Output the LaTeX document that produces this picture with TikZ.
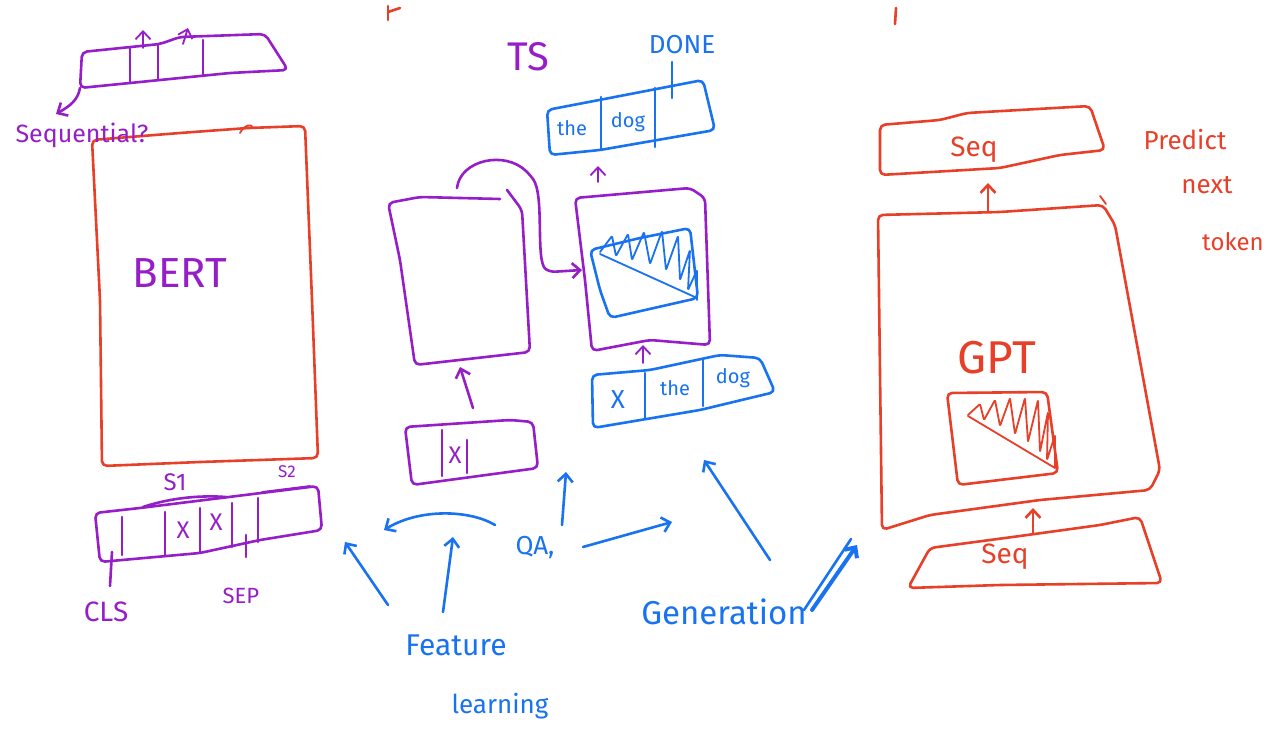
\documentclass[tikz,border=0pt]{standalone}
\usepackage{fontspec}
\setmainfont{Fira Sans}
\usetikzlibrary{arrows.meta, positioning}
\definecolor{penpurple}{RGB}{150,30,200}
\definecolor{penred}{RGB}{232,64,40}
\definecolor{penblue}{RGB}{25,115,240}

\begin{document}
\begin{tikzpicture}[
    x=1pt, y=-1pt,
    pen/.style={line width=2.6pt, line cap=round, line join=round,
        rounded corners=5pt},
    pp/.style={pen, draw=penpurple},
    pr/.style={pen, draw=penred},
    pb/.style={pen, draw=penblue},
    thin/.style={line width=1.8pt},
    tip/.style={-{Straight Barb[length=8pt,width=15pt]}},
    hw/.style={inner sep=0pt, font=\fontsize{#1}{#1}\selectfont},
]
\fill[white] (0,0) rectangle (1277,743);
\useasboundingbox (0,0) rectangle (1277,743);

% ===== LEFT: BERT =====
\draw[pr] (92,140) -- (180,133) -- (248,128) -- (305,126) -- (312,300)
    -- (318,458) -- (200,462) -- (102,466) -- (100,300) -- cycle;
\draw[pr, thin] (240,133) .. controls (244,125) and (252,123) .. (253,128);
\node[hw=42, text=penpurple] (bert) at (180,273) {BERT};

% output sequence on top
\draw[pp] (82,52) -- (160,44) -- (180,37) -- (265,34) -- (288,70)
    -- (230,73) -- (160,80) -- (80,88) -- cycle;
\foreach \x/\ya/\yb in {130/48/83, 158/45/80, 203/40/76}
    \draw[pp] (\x,\ya) -- (\x,\yb);
\coordinate (o1) at (143,48);  \coordinate (o1t) at (143,30);
\coordinate (o2) at (183,44);  \coordinate (o2t) at (188,28);
\coordinate (seqc) at (80,88); \coordinate (seqt) at (56,114);
\draw[pp, thin, tip] (o1) -- (o1t);
\draw[pp, thin, tip] (o2) -- (o2t);
\draw[pp, tip] (seqc) .. controls (78,100) and (70,106) .. (seqt);
\node[hw=25, text=penpurple] (seql) at (82,135) {Sequential?};

% input sequence below
\draw[pp] (95,513) -- (140,508) -- (245,495) -- (318,486) -- (322,530)
    -- (260,540) -- (200,553) -- (100,562) -- cycle;
\foreach \x/\ya/\yb in {122/517/555, 165/512/556, 200/508/552,
    232/503/547, 258/498/542}
    \draw[pp] (\x,\ya) -- (\x,\yb);
\node[hw=24, text=penpurple] (m1) at (183,530) {X};
\node[hw=24, text=penpurple] (m2) at (216,522) {X};
\draw[pp] (143,507) .. controls (170,498) and (200,495) .. (226,497);
\node[hw=24, text=penpurple] (s1) at (175,482) {S1};
\draw[pp, thin] (262,492) -- (310,486);
\node[hw=17, text=penpurple] (s2) at (287,472) {S2};
\coordinate (clsa) at (112,552); \coordinate (clsb) at (110,586);
\coordinate (sepa) at (246,535); \coordinate (sepb) at (246,557);
\draw[pp] (clsa) -- (clsb);
\draw[pp] (sepa) -- (sepb);
\node[hw=28, text=penpurple] (cls) at (106,612) {CLS};
\node[hw=22, text=penpurple] (sep) at (241,596) {SEP};

% ===== MIDDLE: T5 =====
\draw[pp] (507,190) -- (522,210) -- (530,352) -- (415,365) -- (400,260)
    -- (388,203) -- (420,197) -- (500,199);
\draw[pp] (575,198) -- (690,188) -- (705,198) -- (710,345) -- (650,340)
    -- (592,351) -- (585,280) -- cycle;
\coordinate (encout) at (457,188);
\coordinate (decin)  at (582,270);
\draw[pp, tip] (encout) .. controls (460,160) and (505,150) .. (530,175)
    .. controls (545,195) and (535,262) .. (550,272) -- (decin);

% attention mask in decoder
\draw[pb] (590,250) -- (640,238) -- (690,228) -- (698,298) -- (610,318)
    -- (600,290) -- cycle;
\draw[pb, thin, rounded corners=1pt] (600,252) -- (612,236) -- (616,256)
    -- (628,234) -- (632,260) -- (644,232) -- (650,264) -- (662,231)
    -- (666,270) -- (678,236) -- (680,280) -- (690,250) -- (688,290)
    -- (697,270) -- (697,300);
\draw[pb, thin] (600,254) -- (697,298);

% output tokens
\draw[pb] (547,110) -- (620,96) -- (703,80) -- (715,130) -- (600,150)
    -- (550,155) -- cycle;
\foreach \x/\ya/\yb in {601/97/150, 655/88/147}
    \draw[pb] (\x,\ya) -- (\x,\yb);
\node[hw=20, text=penblue] (ot1) at (572,128) {the};
\node[hw=20, text=penblue] (ot2) at (628,122) {dog};
\coordinate (donea) at (672,62); \coordinate (doneb) at (672,98);
\draw[pb] (donea) -- (doneb);
\node[hw=26, text=penblue] (done) at (682,45) {DONE};
\node[hw=40, text=penpurple] (ts) at (528,57) {TS};
\coordinate (deco) at (598,182); \coordinate (decot) at (598,166);
\draw[pp, thin, tip] (deco) -- (decot);

% decoder input
\draw[pb] (592,375) -- (650,370) -- (720,355) -- (760,358) -- (775,392)
    -- (700,410) -- (593,428) -- cycle;
\foreach \x/\ya/\yb in {645/373/418, 703/360/406}
    \draw[pb] (\x,\ya) -- (\x,\yb);
\node[hw=26, text=penblue] (it1) at (618,400) {X};
\node[hw=20, text=penblue] (it2) at (675,388) {the};
\node[hw=20, text=penblue] (it3) at (733,378) {dog};
\coordinate (deci) at (643,363); \coordinate (decit) at (643,345);
\draw[pp, thin, tip] (deci) -- (decit);

% encoder input
\draw[pp] (405,427) -- (510,420) -- (533,422) -- (538,468) -- (412,485)
    -- cycle;
\foreach \x/\ya/\yb in {442/430/476, 467/440/473}
    \draw[pp] (\x,\ya) -- (\x,\yb);
\node[hw=24, text=penpurple] (et1) at (455,455) {X};
\coordinate (enci) at (473,408); \coordinate (encit) at (460,367);
\draw[pp, tip] (enci) -- (encit);

% ===== tasks =====
\node[hw=26, text=penblue] (qa)   at (535,548) {QA,};
\node[hw=30, text=penblue] (feat) at (456,645) {Feature};
\node[hw=26, text=penblue] (lrn)  at (500,706) {learning};
\node[hw=33, text=penblue] (gen)  at (724,612) {Generation};

\coordinate (f1a) at (388,605); \coordinate (f1b) at (345,542);
\coordinate (f2a) at (495,525); \coordinate (f2b) at (384,530);
\coordinate (f3a) at (443,612); \coordinate (f3b) at (453,537);
\coordinate (q1a) at (562,525); \coordinate (q1b) at (566,472);
\coordinate (q2a) at (583,547); \coordinate (q2b) at (672,522);
\coordinate (g1a) at (770,560); \coordinate (g1b) at (704,460);
\coordinate (g2a) at (812,610); \coordinate (g2b) at (857,545);

\foreach \a/\b in {f1a/f1b, f3a/f3b, q1a/q1b, q2a/q2b, g1a/g1b}
    \draw[pb, tip] (\a) -- (\b);
\draw[pb, tip] (f2a) .. controls (470,510) and (420,508) .. (f2b);
\draw[pb, line width=4pt, tip] (g2a) -- (g2b);
\draw[pb] ([xshift=-8pt]g2a) -- ([xshift=-6pt,yshift=6pt]g2b);

% ===== RIGHT: GPT =====
\draw[pr] (880,125) -- (940,120) -- (967,113) -- (1090,106) -- (1105,150)
    -- (1060,155) -- (1000,168) -- (880,175) -- cycle;
\node[hw=28, text=penred] (seqo) at (974,150) {Seq};
\coordinate (gpto) at (988,212); \coordinate (gptot) at (988,183);
\draw[pr, tip] (gpto) -- (gptot);

\draw[pr] (878,215) -- (1000,212) -- (1103,205) -- (1115,225) -- (1160,470)
    -- (1150,490) -- (1040,500) -- (930,515) -- (882,530) -- cycle;
\draw[pr, thin] (1100,196) -- (1106,204);
\node[hw=46, text=penred] (gpt) at (997,358) {GPT};

% causal mask
\draw[pr] (947,393) -- (1047,392) -- (1058,473) -- (958,485) -- cycle;
\draw[pr, thin, rounded corners=1pt] (968,415) -- (980,404) -- (984,420)
    -- (995,400) -- (1000,426) -- (1010,398) -- (1015,434) -- (1025,398)
    -- (1028,442) -- (1038,400) -- (1040,452) -- (1048,412) -- (1047,460)
    -- (1055,435) -- (1055,468);
\draw[pr, thin] (968,416) -- (1055,468);

\draw[pr] (930,548) -- (1020,536) -- (1100,525) -- (1140,517) -- (1162,583)
    -- (1000,585) -- (908,588) -- cycle;
\node[hw=28, text=penred] (seqi) at (1005,557) {Seq};
\coordinate (gpti) at (1033,533); \coordinate (gptit) at (1033,508);
\draw[pr, tip] (gpti) -- (gptit);

\node[hw=26, text=penred] (pred)  at (1185,140) {Predict};
\node[hw=26, text=penred] (next)  at (1207,185) {next};
\node[hw=24, text=penred] (token) at (1233,242) {token};

% marks cut off at the top edge
\draw[pr] (388,6) -- (388,20);
\draw[pr] (388,12) -- (400,8);
\draw[pr] (896,8) -- (895,24);

\end{tikzpicture}
\end{document}
